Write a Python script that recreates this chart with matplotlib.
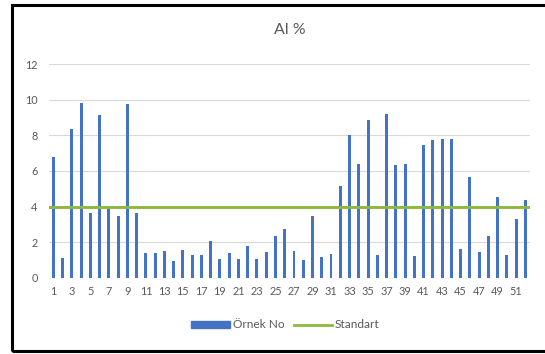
import matplotlib
matplotlib.use("Agg")
import matplotlib.pyplot as plt
from matplotlib.patches import Rectangle
from matplotlib.lines import Line2D

plt.rcParams['font.family'] = ['Lato', 'DejaVu Sans']

samples = list(range(1, 53))
al_percent = [6.77, 1.09, 8.38, 9.84, 3.62, 9.17, 3.86, 3.49, 9.79, 3.62,
              1.41, 1.37, 1.52, 0.94, 1.58, 1.28, 1.28, 2.04, 1.07, 1.41,
              1.07, 1.80, 1.07, 1.46, 2.34, 2.72, 1.50, 1.01, 3.45, 1.18,
              1.31, 5.16, 8.03, 6.39, 8.87, 1.28, 9.21, 6.34, 6.39, 1.24,
              7.48, 7.74, 7.82, 7.78, 1.63, 5.66, 1.44, 2.34, 4.52, 1.28,
              3.32, 4.39]
standard = 4.0
x_ticks = list(range(1, 52, 2))
y_ticks = [0, 2, 4, 6, 8, 10, 12]

title = "Al %"
bar_label = "Örnek No"
line_label = "Standart"

bar_color = "#4472C4"
line_color = "#8DB83E"
text_color = "#595959"
grid_color = "#D9D9D9"

fig = plt.figure(figsize=(5.45, 3.54), dpi=100)
ax = fig.add_axes([0.0894, 0.2155, 0.8831, 0.6029])

ax.bar(samples, al_percent, width=0.32, color=bar_color, zorder=2)
ax.plot([0.5, 52.5], [standard, standard], color=line_color, lw=2.1, zorder=3)

ax.set_xlim(0.5, 52.5)
ax.set_ylim(0, 12)
ax.set_yticks(y_ticks)
ax.set_xticks(x_ticks)
ax.set_xticklabels([str(v) for v in x_ticks])
ax.tick_params(axis='both', length=0, labelsize=7.8, colors=text_color)
ax.tick_params(axis='y', pad=8)
ax.tick_params(axis='x', pad=6)
ax.yaxis.grid(True, color=grid_color, lw=0.8, zorder=0)
ax.set_axisbelow(True)
for s in ax.spines.values():
    s.set_visible(False)

fig.text(0.532, 0.915, title, ha='center', va='center', fontsize=11.5, color=text_color)

handles = [Rectangle((0, 0), 1, 1, color=bar_color),
           Line2D([0], [0], color=line_color, lw=2.0)]
leg = fig.legend(handles, [bar_label, line_label], loc='center',
                 bbox_to_anchor=(0.524, 0.082), ncol=2, frameon=False,
                 fontsize=8.6, handlelength=3.2, handleheight=0.55,
                 handletextpad=0.25, columnspacing=0.8)
for t in leg.get_texts():
    t.set_color(text_color)

# outer frame
fig.add_artist(Rectangle((12 / 545, 3 / 354), 1.1, (349 - 3) / 354,
                         transform=fig.transFigure, fill=False,
                         edgecolor='black', lw=2.2, clip_on=False))

fig.savefig("out.png", dpi=100)
